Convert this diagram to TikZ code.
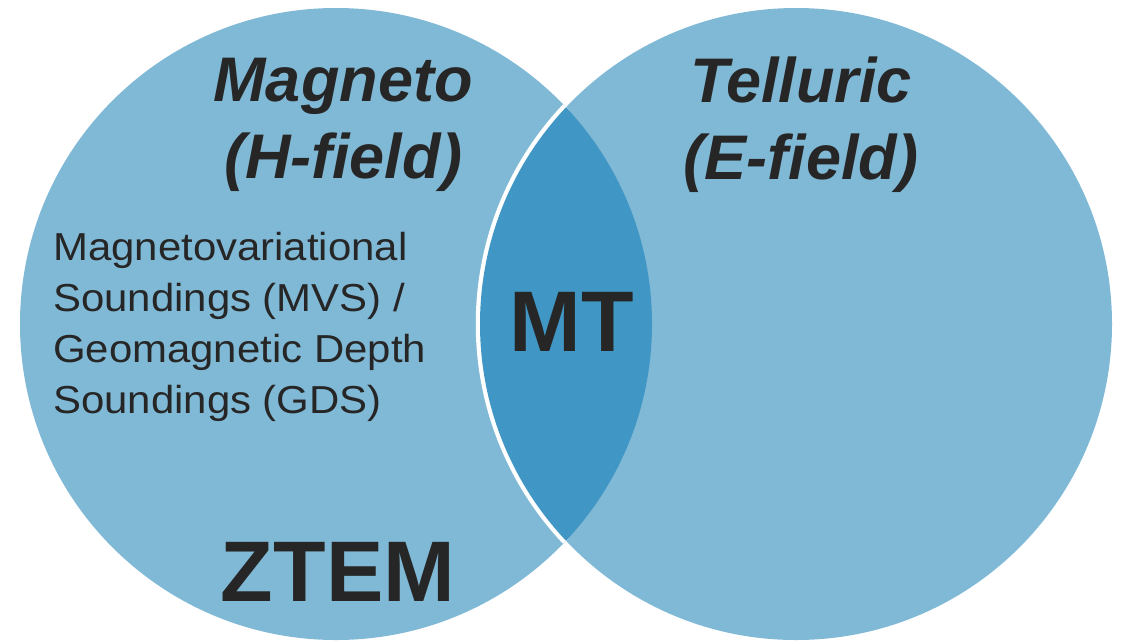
\documentclass[tikz,border=0pt]{standalone}
\usepackage{fontspec}
\setmainfont{Liberation Sans}
\newfontfamily\widesans[FakeStretch=1.075]{Liberation Sans}
\definecolor{lightblue}{HTML}{80B9D6}
\definecolor{lensblue}{HTML}{4096C4}
\definecolor{inkgray}{HTML}{262626}
\tikzset{
  title/.style={font=\fontsize{63}{77}\selectfont\bfseries\itshape, text=inkgray, align=center, inner sep=0pt},
  body/.style={font=\widesans\fontsize{39}{51}\selectfont, text=inkgray, align=left, inner sep=0pt},
  big/.style={font=\fontsize{86}{100}\selectfont\bfseries, text=inkgray, inner sep=0pt},
}
\begin{document}
\begin{tikzpicture}[x=1pt,y=-1pt]
\useasboundingbox (0,0) rectangle (1121,641);
\coordinate (L) at (336,324);
\coordinate (R) at (796,324);
\fill[lightblue] (L) circle[radius=316];
\fill[lightblue] (R) circle[radius=316];
\begin{scope}
  \clip (L) circle[radius=316];
  \draw[white, line width=8.5pt] (R) circle[radius=316];
  \fill[lensblue] (R) circle[radius=316];
\end{scope}
\node[title] (magneto) at (343,125) {Magneto\\(H-field)};
\node[title] (telluric) at (801,125) {Telluric\\(E-field)};
\node[body, anchor=north west] (mvs) at (53,232) {Magnetovariational\\Soundings (MVS) /\\Geomagnetic Depth\\Soundings (GDS)};
\node[big] (mt) at (572,322) {MT};
\node[big] (ztem) at (338,572) {ZTEM};
\end{tikzpicture}
\end{document}
